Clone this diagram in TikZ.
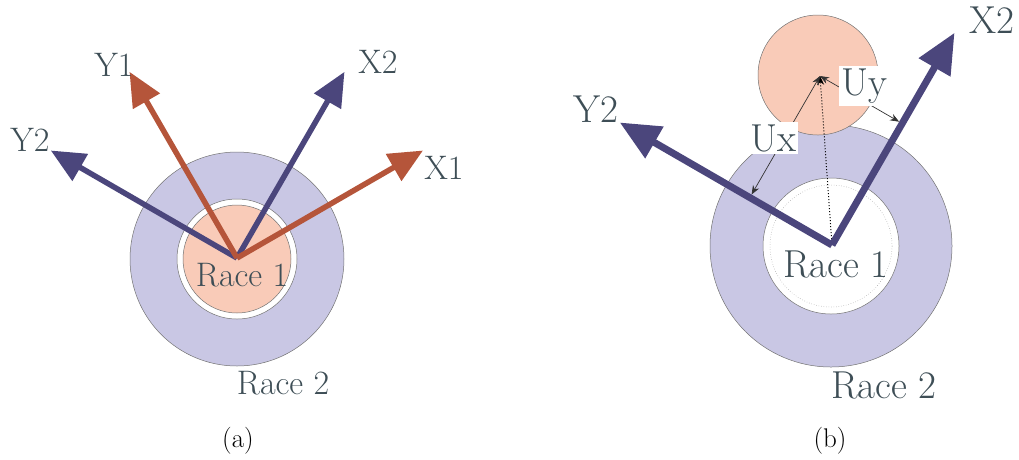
\documentclass[tikz,border=0pt]{standalone}
\usetikzlibrary{arrows.meta,calc}
\definecolor{axpurple}{RGB}{75,70,124}
\definecolor{axorange}{RGB}{181,85,58}
\definecolor{lav}{RGB}{201,199,228}
\definecolor{pinkf}{RGB}{249,203,184}
\definecolor{txt}{RGB}{62,78,86}
\begin{document}
\begin{tikzpicture}[x=1pt,y=-1pt,
  disc/.style={circle,draw=black!55,line width=0.5pt,inner sep=0pt},
  axisA/.style={line width=5.5pt,-{Triangle[length=34pt,width=30pt]}},
  axisB/.style={line width=7pt,-{Triangle[length=40pt,width=35pt]}},
  lblA/.style={text=txt,font=\fontsize{34}{40}\selectfont,inner sep=0pt},
  lblB/.style={text=txt,font=\fontsize{39}{46}\selectfont,inner sep=0pt},
  uarr/.style={line width=0.7pt,black!80,{Stealth[length=9pt,width=7pt]}-{Stealth[length=9pt,width=7pt]}},
  ulbl/.style={fill=white,text=txt,font=\fontsize{39}{46}\selectfont,inner sep=2.5pt},
  caplbl/.style={font=\fontsize{27}{32}\selectfont,inner sep=0pt}
]
\useasboundingbox (0,0) rectangle (1019,459);

% ---------- (a) ----------
\node[disc,fill=lav,minimum size=214pt] (race2a) at (237,259) {};
\node[disc,fill=white,minimum size=120pt] (gapa) at (237,259) {};
\node[disc,fill=pinkf,minimum size=108pt] (race1a) at (237,259) {};
\coordinate (Oa) at (237,258);
\coordinate (X1a) at (423,150.5);
\coordinate (X2a) at (344.5,71.8);
\coordinate (Y1a) at (129.5,71.8);
\coordinate (Y2a) at (50.8,150.5);
\draw[axisA,axpurple] (Oa) -- (Y2a);
\draw[axisA,axpurple] (Oa) -- (X2a);
\draw[axisA,axorange] (Oa) -- (Y1a);
\draw[axisA,axorange] (Oa) -- (X1a);
\node[lblA] (tY2a) at (30,140) {Y2};
\node[lblA] (tY1a) at (114,65) {Y1};
\node[lblA] (tX2a) at (378,62) {X2};
\node[lblA] (tX1a) at (444,168) {X1};
\node[lblA] (tR1a) at (242,275) {Race 1};
\node[lblA] (tR2a) at (283,383) {Race 2};
\node[caplbl] (capa) at (238,441) {(a)};

% ---------- (b) ----------
\node[disc,fill=lav,minimum size=242pt] (race2b) at (831,246) {};
\node[disc,fill=white,minimum size=136pt] (gapb) at (831,246) {};
\draw[black!40,dotted,line width=0.5pt] (gapb.center) circle[radius=61pt];
\node[disc,fill=pinkf,minimum size=120pt] (ball) at (818,75) {};
\coordinate (Ob) at (832,245);
\coordinate (X2b) at (954.5,32.8);
\coordinate (Y2b) at (619.8,122.5);
\coordinate (P) at (820,76);
\draw[line width=1pt,dotted,-{Stealth[length=9pt,width=7pt]}] (Ob) -- (P);
\draw[axisB,axpurple] (Ob) -- (Y2b);
\draw[axisB,axpurple] (Ob) -- (X2b);
\coordinate (footx) at ($(Ob)!(P)!(Y2b)$);
\coordinate (footy) at ($(Ob)!(P)!(X2b)$);
\draw[uarr,shorten >=3.5pt] (P) -- (footx);
\draw[uarr,shorten >=3.5pt] (P) -- (footy);
\node[ulbl] (ux) at (773,138) {Ux};
\node[ulbl] (uy) at (864,86) {Uy};
\node[lblB] (tY2b) at (596,109) {Y2};
\node[lblB] (tX2b) at (992,20) {X2};
\node[lblB] (tR1b) at (836,264) {Race 1};
\node[lblB] (tR2b) at (884,385) {Race 2};
\node[caplbl] (capb) at (830,441) {(b)};
\end{tikzpicture}
\end{document}
